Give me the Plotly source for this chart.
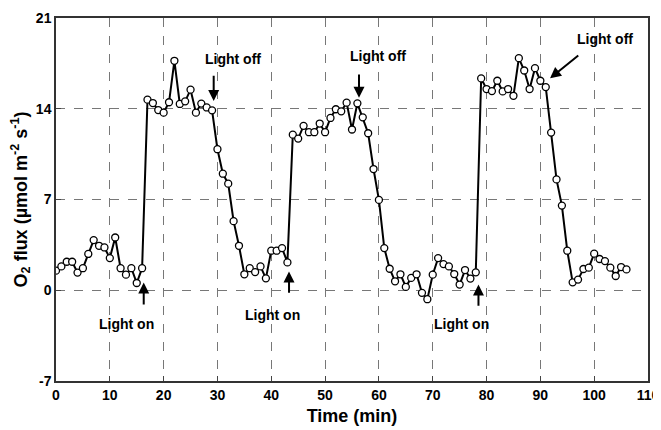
import plotly.graph_objects as go

time_min = list(range(0, 107))
o2_flux = [
    1.51, 1.84, 2.2, 2.2, 1.36, 1.7, 2.8, 3.87, 3.43, 3.3,
    2.48, 4.07, 1.7, 1.2, 1.7, 0.56, 1.7, 14.7, 14.44, 13.9,
    13.7, 14.5, 17.7, 14.37, 14.57, 15.47, 13.7, 14.4, 14.1, 13.88,
    10.88, 8.99, 8.22, 5.33, 3.43, 1.23, 1.7, 1.4, 1.84, 0.92,
    3.05, 3.05, 3.25, 2.15, 12.0, 11.7, 12.68, 12.19, 12.19, 12.86,
    12.19, 13.29, 13.96, 13.8, 14.47, 12.4, 14.42, 13.34, 12.11, 9.35,
    6.97, 3.25, 1.66, 0.69, 1.23, 0.26, 0.95, 1.23, -0.2, -0.69,
    1.2, 2.48, 2.02, 1.84, 1.25, 0.44, 1.56, 0.9, 1.38, 16.34,
    15.52, 15.36, 16.16, 15.34, 15.52, 15.0, 17.9, 16.95, 15.52, 17.13,
    16.16, 15.67, 12.16, 8.55, 6.53, 3.05, 0.61, 0.82, 1.64, 1.74,
    2.82, 2.41, 2.25, 1.74, 1.1, 1.79, 1.61,
]

x_ticks = [0, 10, 20, 30, 40, 50, 60, 70, 80, 90, 100, 110]
y_ticks = [-7, 0, 7, 14, 21]

# annotations: label, text x, text y, arrow tip x, tip y, arrow tail x, tail y
labels = [
    ("Light on", 13.1, -2.6, 16.3, 0.6, 16.3, -1.75),
    ("Light on", 40.2, -1.9, 43.3, 1.45, 43.3, -0.85),
    ("Light on", 75.4, -2.6, 78.5, 0.45, 78.5, -1.85),
    ("Light off", 32.8, 17.85, 29.3, 14.6, 29.3, 17.2),
    ("Light off", 59.9, 18.1, 56.3, 14.85, 56.3, 17.3),
    ("Light off", 102.0, 19.4, 91.8, 16.35, 97.6, 18.3),
]

FONT = "Liberation Sans Narrow, Liberation Sans, Arial, sans-serif"

fig = go.Figure()
fig.add_trace(go.Scatter(
    x=time_min, y=o2_flux, mode="lines+markers",
    line=dict(color="black", width=2),
    marker=dict(symbol="circle", size=7, color="white",
                line=dict(color="black", width=1.3)),
    showlegend=False,
))

annotations = []
for text, tx, ty, hx, hy, ax, ay in labels:
    annotations.append(dict(
        x=hx, y=hy, ax=ax, ay=ay, xref="x", yref="y", axref="x", ayref="y",
        showarrow=True, arrowhead=2, arrowsize=1.1, arrowwidth=2,
        arrowcolor="black", text=" ",
    ))
    annotations.append(dict(
        x=tx, y=ty, xref="x", yref="y", text="<b>" + text + "</b>",
        showarrow=False, font=dict(family=FONT, size=14, color="black"),
    ))

# page body has an 8px margin, so the figure is a little smaller than the window
fig.update_layout(
    width=653, height=422,
    margin=dict(l=48, r=13, t=10, b=49),
    paper_bgcolor="white", plot_bgcolor="white",
    font=dict(family=FONT, color="black"),
    annotations=annotations,
    xaxis=dict(
        range=[0, 110], tickvals=x_ticks, automargin=False,
        ticktext=["<b>%d</b>" % v for v in x_ticks],
        tickfont=dict(size=14, family=FONT), ticks="inside", ticklen=5,
        tickcolor="#444", showline=True, linecolor="#333", linewidth=1.5,
        mirror=True, showgrid=True, gridcolor="#777", griddash="dash",
        gridwidth=1, zeroline=False,
        title=dict(text="<b>Time (min)</b>", font=dict(size=18, family=FONT),
                   standoff=8),
    ),
    yaxis=dict(
        range=[-7, 21], tickvals=y_ticks, automargin=False,
        ticktext=["<b>%d</b>" % v for v in y_ticks],
        tickfont=dict(size=14, family=FONT), ticks="inside", ticklen=5,
        tickcolor="#444", showline=True, linecolor="#333", linewidth=1.5,
        mirror=True, showgrid=True, gridcolor="#777", griddash="dash",
        gridwidth=1, zeroline=False,
        title=dict(text="<b>O<sub>2</sub> flux (µmol m<sup>-2</sup> s<sup>-1</sup>)</b>",
                   font=dict(size=18, family=FONT), standoff=5),
    ),
)

fig.write_html("out.html")
